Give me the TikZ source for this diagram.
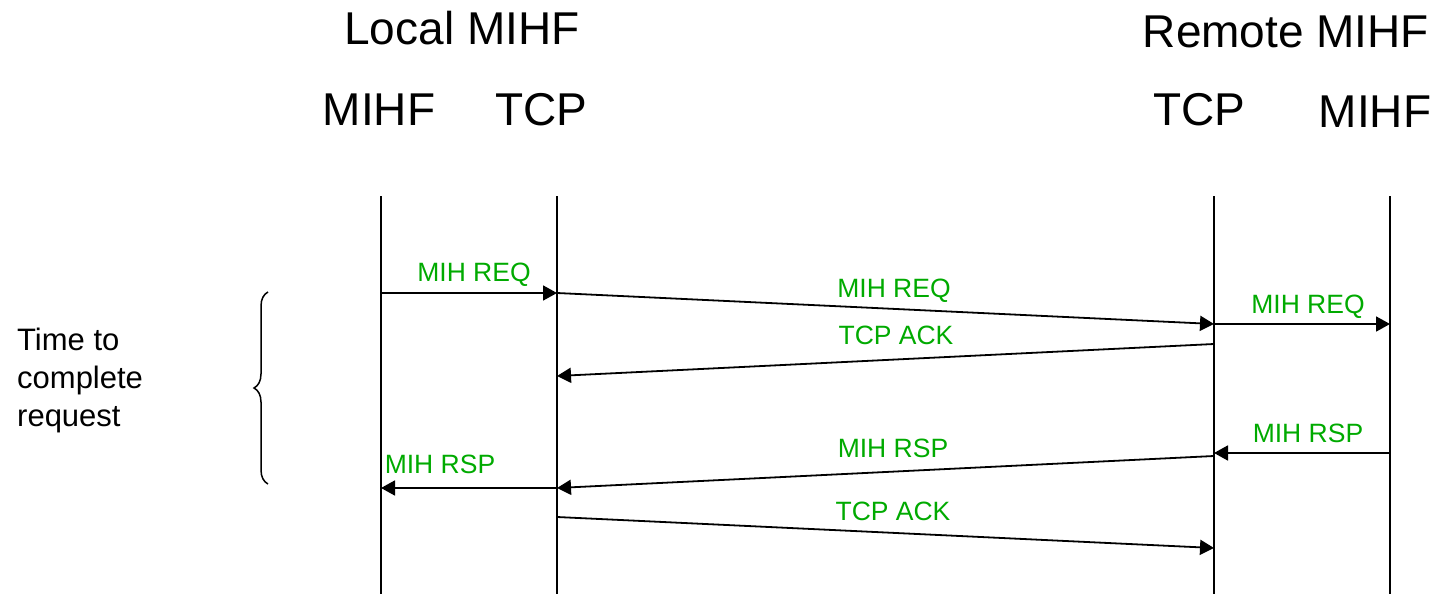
\documentclass[tikz,border=0pt]{standalone}
\usepackage{fontspec}
\setmainfont{Liberation Sans}
\usetikzlibrary{arrows.meta,decorations.pathreplacing}
\definecolor{msggreen}{RGB}{0,170,0}
\begin{document}
\begin{tikzpicture}[x=1pt,y=-1pt,
  lifeline/.style={line width=2pt},
  msg/.style={line width=1.8pt,-{Triangle[length=14pt,width=15pt]}},
  msglabel/.style={text=msggreen,anchor=base,inner sep=0pt,font=\fontsize{26.5}{30}\selectfont},
  header/.style={anchor=base,inner sep=0pt,font=\fontsize{46}{52}\selectfont}]
\useasboundingbox (0,0) rectangle (1438,594);

% Headers
\node[header] (localHead) at (462,45) {Local MIHF};
\node[header] (remoteHead) at (1286,48) {Remote MIHF};
\node[header] (lmName) at (379,125) {MIHF};
\node[header] (ltName) at (541,125) {TCP};
\node[header] (rtName) at (1199,125) {TCP};
\node[header] (rmName) at (1375,128) {MIHF};

% Lifelines
\coordinate (lm) at (381,196);
\coordinate (lt) at (557,196);
\coordinate (rt) at (1214,196);
\coordinate (rm) at (1390,196);
\foreach \c in {lm,lt,rt,rm}
  \draw[lifeline] (\c) -- (\c |- 0,594);

% Request
\draw[msg] (lm |- 0,293) -- (lt |- 0,293);
\node[msglabel] (req1) at (474,281) {MIH REQ};
\draw[msg] (lt |- 0,293) -- (rt |- 0,324);
\node[msglabel] (req2) at (894,297) {MIH REQ};
\draw[msg] (rt |- 0,324) -- (rm |- 0,324);
\node[msglabel] (req3) at (1308,313) {MIH REQ};
\draw[msg] (rt |- 0,344) -- (lt |- 0,376);
\node[msglabel] (ack1) at (896,344) {TCP ACK};

% Response
\draw[msg] (rm |- 0,453) -- (rt |- 0,453);
\node[msglabel] (rsp1) at (1308,442) {MIH RSP};
\draw[msg] (rt |- 0,456) -- (lt |- 0,488);
\node[msglabel] (rsp2) at (893,457) {MIH RSP};
\draw[msg] (lt |- 0,488) -- (lm |- 0,488);
\node[msglabel] (rsp3) at (440,473) {MIH RSP};
\draw[msg] (lt |- 0,517) -- (rt |- 0,548);
\node[msglabel] (ack2) at (893,520) {TCP ACK};

% Time brace
\draw[line width=1.5pt,decorate,decoration={brace,amplitude=14pt}] (268,484) -- (268,292);
\node[anchor=base west,inner sep=0pt,align=left,font=\fontsize{31}{38}\selectfont] (timeNote) at (17,426) {Time to\\complete\\request};
\end{tikzpicture}
\end{document}
